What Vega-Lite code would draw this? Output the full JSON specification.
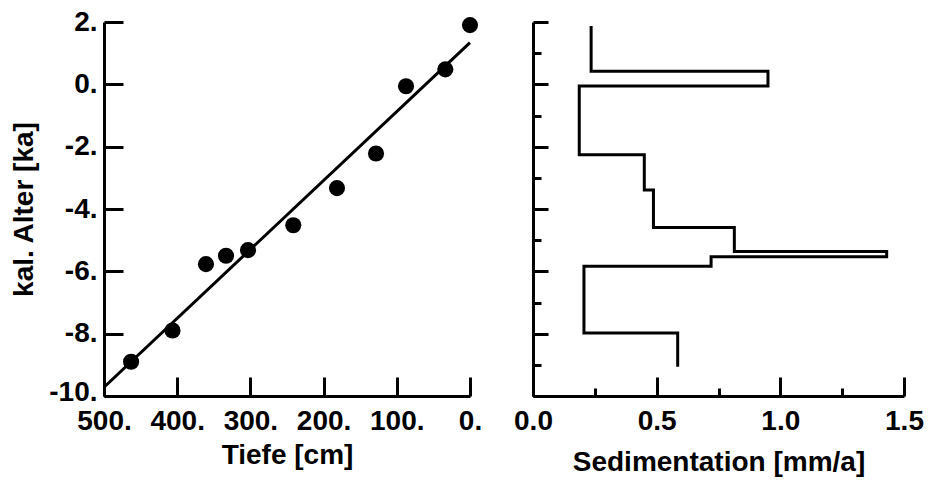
{
  "$schema": "https://vega.github.io/schema/vega-lite/v6.json",
  "background": "white",
  "padding": {"left": 10, "top": 8, "right": 20, "bottom": 5},
  "bounds": "flush",
  "spacing": 63,
  "config": {
    "view": {"stroke": null},
    "axis": {
      "labelFont": "Liberation Sans", "labelFontWeight": "bold", "labelFontSize": 28, "labelColor": "black",
      "titleFont": "Liberation Sans", "titleFontWeight": "bold", "titleFontSize": 28, "titleColor": "black",
      "domainColor": "black", "domainWidth": 3, "tickColor": "black", "tickWidth": 3,
      "grid": false, "labelFlush": false, "labelOverlap": false
    }
  },
  "hconcat": [
    {
      "width": 366,
      "height": 374,
      "layer": [
        {
          "data": {"values": [
            {"depth": 0, "age": 1.9},
            {"depth": 33.7, "age": 0.48},
            {"depth": 87.4, "age": -0.06},
            {"depth": 128.4, "age": -2.22},
            {"depth": 181.7, "age": -3.33},
            {"depth": 241.4, "age": -4.52},
            {"depth": 303.3, "age": -5.32},
            {"depth": 333.3, "age": -5.5},
            {"depth": 360.7, "age": -5.77},
            {"depth": 406.4, "age": -7.9},
            {"depth": 463, "age": -8.9}
          ]},
          "mark": {"type": "point", "filled": true, "size": 260, "color": "black", "opacity": 1, "clip": false},
          "encoding": {
            "x": {"field": "depth", "type": "quantitative",
              "scale": {"domain": [0, 500], "reverse": true, "nice": false, "zero": false},
              "axis": {"title": "Tiefe [cm]",
                "values": [0, 50, 100, 150, 200, 250, 300, 350, 400, 450, 500],
                "labelExpr": "datum.value % 100 == 0 ? datum.value + '.' : ''",
                "tickSize": {"condition": {"test": "datum.value % 100 == 0", "value": -19}, "value": -8},
                "labelPadding": 30, "titlePadding": 6}},
            "y": {"field": "age", "type": "quantitative",
              "scale": {"domain": [-10, 2], "nice": false, "zero": false},
              "axis": {"title": "kal. Alter [ka]",
                "values": [-10, -9, -8, -7, -6, -5, -4, -3, -2, -1, 0, 1, 2],
                "labelExpr": "datum.value % 2 == 0 ? datum.value + '.' : ''",
                "labelOffset": {"condition": {"test": "datum.value == -10", "value": -4}, "value": 0},
                "tickSize": {"condition": {"test": "datum.value % 2 == 0", "value": -19}, "value": -8},
                "labelPadding": 26, "titlePadding": 10}}
          }
        },
        {
          "data": {"values": [
            {"depth": 500, "age": -9.72},
            {"depth": 0, "age": 1.34}
          ]},
          "mark": {"type": "line", "color": "black", "strokeWidth": 3},
          "encoding": {
            "x": {"field": "depth", "type": "quantitative"},
            "y": {"field": "age", "type": "quantitative"}
          }
        }
      ]
    },
    {
      "width": 371,
      "height": 374,
      "data": {"values": [
        {"sed": 0.235, "age": 1.87},
        {"sed": 0.95, "age": 0.42},
        {"sed": 0.187, "age": -0.05},
        {"sed": 0.45, "age": -2.26},
        {"sed": 0.487, "age": -3.39},
        {"sed": 0.814, "age": -4.59},
        {"sed": 1.43, "age": -5.36},
        {"sed": 0.72, "age": -5.53},
        {"sed": 0.206, "age": -5.84},
        {"sed": 0.585, "age": -7.98},
        {"sed": 0.585, "age": -9.06}
      ]},
      "mark": {"type": "line", "color": "black", "strokeWidth": 3, "interpolate": "step-before"},
      "encoding": {
        "x": {"field": "sed", "type": "quantitative",
          "scale": {"domain": [0, 1.5], "nice": false, "zero": false},
          "axis": {"title": "Sedimentation [mm/a]",
            "values": [0, 0.25, 0.5, 0.75, 1, 1.25, 1.5],
            "labelExpr": "(datum.value * 2) % 1 == 0 ? format(datum.value, '.1f') : ''",
            "tickSize": {"condition": {"test": "(datum.value * 2) % 1 == 0", "value": -19}, "value": -8},
            "labelPadding": 30, "titlePadding": 2}},
        "y": {"field": "age", "type": "quantitative",
          "scale": {"domain": [-10, 2], "nice": false, "zero": false},
          "axis": {"title": null, "labels": false,
            "values": [-10, -9, -8, -7, -6, -5, -4, -3, -2, -1, 0, 1, 2],
            "tickSize": {"condition": {"test": "datum.value % 2 == 0", "value": -15}, "value": -8}}},
        "order": {"field": "age", "sort": "descending"}
      }
    }
  ]
}
